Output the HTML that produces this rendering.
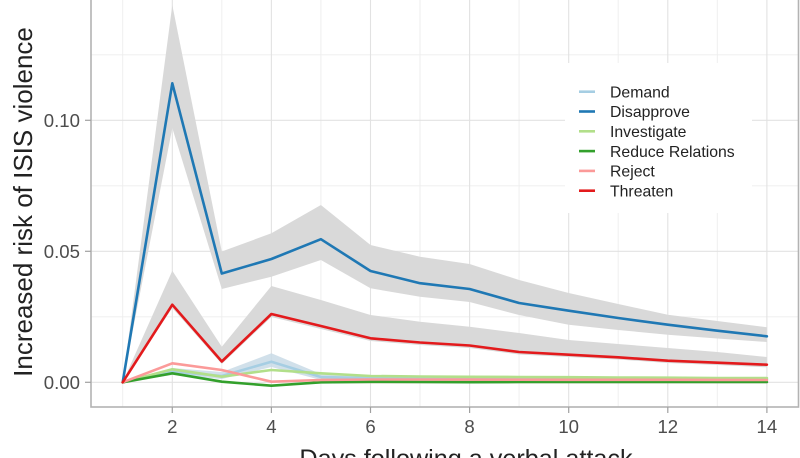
<!DOCTYPE html>
<html><head><meta charset="utf-8"><style>
html,body{margin:0;padding:0;background:#fff;}
svg{display:block;}
text{font-family:"Liberation Sans",Arial,sans-serif;}
</style></head><body>
<svg width="800" height="458" viewBox="0 0 800 458" xmlns="http://www.w3.org/2000/svg">
<rect x="0" y="0" width="800" height="458" fill="#fff"/>
<!-- minor gridlines -->
<g stroke="#ededed" stroke-width="0.9">
<line x1="91" y1="54.8" x2="799" y2="54.8"/>
<line x1="91" y1="185.8" x2="799" y2="185.8"/>
<line x1="91" y1="316.8" x2="799" y2="316.8"/>
<line x1="122.7" y1="0" x2="122.7" y2="407"/>
<line x1="221.8" y1="0" x2="221.8" y2="407"/>
<line x1="320.9" y1="0" x2="320.9" y2="407"/>
<line x1="420" y1="0" x2="420" y2="407"/>
<line x1="519.1" y1="0" x2="519.1" y2="407"/>
<line x1="618.2" y1="0" x2="618.2" y2="407"/>
<line x1="717.3" y1="0" x2="717.3" y2="407"/>
</g>
<!-- major gridlines -->
<g stroke="#e2e2e2" stroke-width="1.1">
<line x1="91" y1="120.3" x2="799" y2="120.3"/>
<line x1="91" y1="251.3" x2="799" y2="251.3"/>
<line x1="91" y1="382.3" x2="799" y2="382.3"/>
<line x1="172.3" y1="0" x2="172.3" y2="407"/>
<line x1="271.4" y1="0" x2="271.4" y2="407"/>
<line x1="370.5" y1="0" x2="370.5" y2="407"/>
<line x1="469.6" y1="0" x2="469.6" y2="407"/>
<line x1="568.7" y1="0" x2="568.7" y2="407"/>
<line x1="667.8" y1="0" x2="667.8" y2="407"/>
<line x1="766.9" y1="0" x2="766.9" y2="407"/>
</g>
<!-- ribbons -->
<polygon fill="#d9d9d9" points="122.7,382.3 172.3,5 221.8,251.5 271.4,233.3 320.9,205 370.5,245 420,256.7 469.6,264 519.1,280 568.7,293 618.2,304 667.8,314.7 717.3,321 766.9,327.3 766.9,342 717.3,338.5 667.8,334.7 618.2,330 568.7,324.7 519.1,315 469.6,302 420,296.7 370.5,288.3 320.9,260 271.4,276.7 221.8,289 172.3,128"/>
<polygon fill="#d9d9d9" points="122.7,382.3 172.3,270.7 221.8,346.7 271.4,286 320.9,300 370.5,315 420,321.7 469.6,326.7 519.1,333 568.7,340 618.2,344 667.8,348 717.3,352 766.9,357 766.9,367.3 717.3,365 667.8,363 618.2,359.5 568.7,357 519.1,354.5 469.6,348 420,345 370.5,341 320.9,329 271.4,317 221.8,364 172.3,308"/>
<polygon fill="#c9dbe6" opacity="0.85" points="122.7,382.3 172.3,368 221.8,372 271.4,353.3 320.9,374 370.5,376 420,377 469.6,377.3 519.1,377.5 568.7,377.5 618.2,377.5 667.8,377.5 717.3,377.5 766.9,377.5 766.9,380.5 717.3,380.5 667.8,380.5 618.2,380.5 568.7,380.5 519.1,380.5 469.6,380.5 420,380.3 370.5,380 320.9,380 271.4,367 221.8,379 172.3,375"/>
<polygon fill="#dcc3ad" opacity="0.7" points="320.9,377 370.5,376.5 420,376.8 469.6,377 519.1,377.2 568.7,377.4 618.2,377.6 667.8,377.8 717.3,378 766.9,378 766.9,383.5 717.3,383.5 667.8,383.5 618.2,383.5 568.7,383.5 519.1,383.5 469.6,383.5 420,383.5 370.5,383.5 320.9,383.5"/>
<!-- lines -->
<g fill="none" stroke-width="2.6" stroke-linejoin="round" stroke-linecap="round">
<polyline stroke="#a6cee3" points="122.7,382.3 172.3,371.7 221.8,376 271.4,361.7 320.9,377 370.5,378 420,378.5 469.6,378.5 519.1,378.7 568.7,378.8 618.2,379 667.8,379 717.3,379 766.9,379"/>
<polyline stroke="#1f78b4" points="122.7,382.3 172.3,83.3 221.8,273.5 271.4,259 320.9,239.2 370.5,271 420,283.2 469.6,289 519.1,303 568.7,310.7 618.2,318 667.8,324.7 717.3,330.7 766.9,336.3"/>
<polyline stroke="#b2df8a" points="122.7,382.3 172.3,369.3 221.8,376.7 271.4,370 320.9,373.3 370.5,376 420,376.5 469.6,376.8 519.1,377 568.7,377.2 618.2,377.5 667.8,377.7 717.3,378 766.9,378"/>
<polyline stroke="#33a02c" points="122.7,382.3 172.3,373.3 221.8,381.7 271.4,385.7 320.9,382.3 370.5,381.8 420,382 469.6,382.2 519.1,382 568.7,382 618.2,382 667.8,382 717.3,382 766.9,382"/>
<polyline stroke="#fb9a99" points="122.7,382.3 172.3,363.3 221.8,370 271.4,381.7 320.9,380 370.5,379.5 420,379.5 469.6,379.6 519.1,379.7 568.7,379.8 618.2,379.8 667.8,379.8 717.3,379.9 766.9,380"/>
<polyline stroke="#e31a1c" points="122.7,382.3 172.3,304.7 221.8,361.5 271.4,314 320.9,326 370.5,338.3 420,342.5 469.6,345.5 519.1,352 568.7,354.7 618.2,357.3 667.8,360.7 717.3,362.7 766.9,364.7"/>
</g>
<!-- legend -->
<rect x="565" y="63" width="187" height="150" fill="#fff"/>
<g stroke-width="2.6">
<line x1="579" y1="91.7" x2="595" y2="91.7" stroke="#a6cee3"/>
<line x1="579" y1="111.5" x2="595" y2="111.5" stroke="#1f78b4"/>
<line x1="579" y1="131.3" x2="595" y2="131.3" stroke="#b2df8a"/>
<line x1="579" y1="151.1" x2="595" y2="151.1" stroke="#33a02c"/>
<line x1="579" y1="170.9" x2="595" y2="170.9" stroke="#fb9a99"/>
<line x1="579" y1="190.7" x2="595" y2="190.7" stroke="#e31a1c"/>
</g>
<g font-size="15.8" fill="#222">
<text x="610" y="97.4">Demand</text>
<text x="610" y="117.2">Disapprove</text>
<text x="610" y="137">Investigate</text>
<text x="610" y="156.8">Reduce Relations</text>
<text x="610" y="176.6">Reject</text>
<text x="610" y="196.4">Threaten</text>
</g>
<!-- panel border -->
<rect x="91" y="-5" width="707.5" height="412" fill="none" stroke="#b3b3b3" stroke-width="1.6"/>
<!-- ticks -->
<g stroke="#a0a0a0" stroke-width="1.2">
<line x1="85" y1="120.3" x2="91" y2="120.3"/>
<line x1="85" y1="251.3" x2="91" y2="251.3"/>
<line x1="85" y1="382.3" x2="91" y2="382.3"/>
<line x1="172.3" y1="407" x2="172.3" y2="413"/>
<line x1="271.4" y1="407" x2="271.4" y2="413"/>
<line x1="370.5" y1="407" x2="370.5" y2="413"/>
<line x1="469.6" y1="407" x2="469.6" y2="413"/>
<line x1="568.7" y1="407" x2="568.7" y2="413"/>
<line x1="667.8" y1="407" x2="667.8" y2="413"/>
<line x1="766.9" y1="407" x2="766.9" y2="413"/>
</g>
<g font-size="18.6" fill="#4d4d4d">
<text x="80" y="127" text-anchor="end">0.10</text>
<text x="80" y="258" text-anchor="end">0.05</text>
<text x="80" y="389" text-anchor="end">0.00</text>
<g text-anchor="middle">
<text x="172.3" y="433">2</text>
<text x="271.4" y="433">4</text>
<text x="370.5" y="433">6</text>
<text x="469.6" y="433">8</text>
<text x="568.7" y="433">10</text>
<text x="667.8" y="433">12</text>
<text x="766.9" y="433">14</text>
</g>
</g>
<text transform="translate(32,202) rotate(-90)" text-anchor="middle" font-size="26" fill="#222">Increased risk of ISIS violence</text>
<text x="466" y="467" text-anchor="middle" font-size="25.2" fill="#222">Days following a verbal attack</text>
</svg>
</body></html>
